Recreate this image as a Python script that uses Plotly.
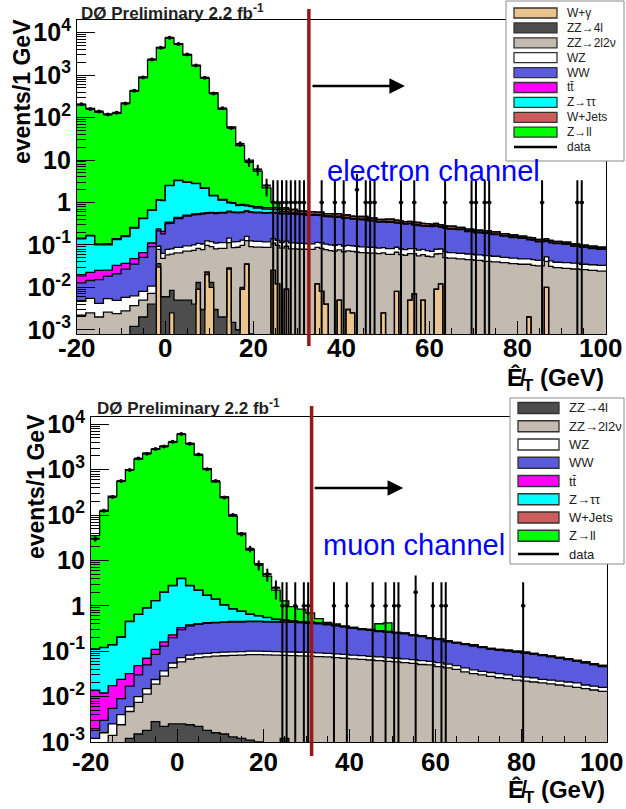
import numpy as np
import plotly.graph_objects as go

# ---------------------------------------------------------------
# Missing-ET-like variable from -20 to 100 GeV, contents in events / 1 GeV.
# Most backgrounds are stored in 2 GeV bins; W+gamma and the high-ET data
# events are stored as individual 1 GeV bins.
# ---------------------------------------------------------------
bin_edges = list(range(-20, 101, 2))      # 2 GeV binning
fine_edges = list(range(-20, 101, 1))     # 1 GeV binning used for drawing

# ---------------- electron channel ----------------
# W+gamma: lower edge of each non-empty 1 GeV bin and its content
e_wgamma_lo = [-2, 1, 7, 9, 10, 14, 17, 18, 24, 25, 27, 34, 35, 36, 39, 41, 42,
               49, 52, 55, 56, 58, 61, 62, 82, 86]
e_wgamma_val = [0.03, 0.0025, 0.009, 0.02, 0.01, 0.027, 0.009, 0.035, 0.025, 0.012,
                0.009, 0.012, 0.008, 0.004, 0.005, 0.003, 0.0025, 0.0025, 0.008, 0.005,
                0.007, 0.005, 0.009, 0.012, 0.002, 0.01]
e_zz4l = [0, 0, 0, 0, 0, 0, 0.0012, 0.002, 0.004, 0.006,
          0.006, 0.005, 0.005, 0.004, 0.003, 0.003, 0.002, 0.0015, 0.001, 0.0008,
          0.0006, 0, 0, 0, 0, 0, 0, 0, 0, 0,
          0, 0, 0, 0, 0, 0, 0, 0, 0, 0,
          0, 0, 0, 0, 0, 0, 0, 0, 0, 0,
          0, 0, 0, 0, 0, 0, 0, 0, 0, 0]
e_zz2l2v = [0.0022, 0.0025, 0.002, 0.0026, 0.0024, 0.0028, 0.0025, 0.003, 0.0032, 0.042,
            0.052, 0.06, 0.066, 0.07, 0.074, 0.078, 0.081, 0.085, 0.087, 0.09,
            0.088, 0.087, 0.085, 0.084, 0.081, 0.079, 0.078, 0.075, 0.073, 0.071,
            0.069, 0.068, 0.066, 0.064, 0.062, 0.06, 0.059, 0.057, 0.055, 0.054,
            0.052, 0.05, 0.049, 0.047, 0.045, 0.043, 0.041, 0.04, 0.038, 0.036,
            0.035, 0.033, 0.032, 0.031, 0.029, 0.028, 0.027, 0.026, 0.025, 0.024]
e_wz = [0.0025, 0.003, 0.0022, 0.0028, 0.0025, 0.003, 0.0026, 0.003, 0.0035, 0.015,
        0.02, 0.022, 0.024, 0.026, 0.028, 0.029, 0.03, 0.031, 0.032, 0.033,
        0.032, 0.031, 0.031, 0.03, 0.03, 0.029, 0.028, 0.028, 0.027, 0.026,
        0.025, 0.025, 0.024, 0.023, 0.022, 0.022, 0.021, 0.02, 0.02, 0.019,
        0.018, 0.018, 0.017, 0.016, 0.016, 0.015, 0.015, 0.014, 0.013, 0.013,
        0.012, 0.012, 0.011, 0.011, 0.01, 0.01, 0.01, 0.009, 0.009, 0.009]
e_ww = [0.008, 0.009, 0.011, 0.013, 0.016, 0.021, 0.029, 0.043, 0.08, 0.12,
        0.24, 0.33, 0.38, 0.41, 0.43, 0.44, 0.45, 0.46, 0.45, 0.46,
        0.45, 0.44, 0.43, 0.42, 0.42, 0.41, 0.39, 0.38, 0.36, 0.35,
        0.33, 0.31, 0.3, 0.28, 0.26, 0.26, 0.24, 0.23, 0.21, 0.2,
        0.2, 0.18, 0.17, 0.165, 0.145, 0.135, 0.13, 0.12, 0.11, 0.1,
        0.095, 0.085, 0.075, 0.07, 0.068, 0.065, 0.055, 0.052, 0.048, 0.045]
e_ttbar = [0.006, 0.008, 0.01, 0.007, 0.012, 0.01, 0.012, 0.015, 0.02, 0.025,
           0.025, 0.025, 0.024, 0.024, 0.023, 0.023, 0.022, 0.022, 0.021, 0.02,
           0.02, 0.019, 0.018, 0.018, 0.017, 0.016, 0.016, 0.015, 0.014, 0.014,
           0.013, 0.012, 0.012, 0.011, 0.011, 0.01, 0.01, 0.009, 0.009, 0.008,
           0.008, 0.008, 0.007, 0.007, 0.006, 0.006, 0.006, 0.005, 0.005, 0.005,
           0.004, 0.004, 0.004, 0.004, 0.003, 0.003, 0.003, 0.003, 0.003, 0.002]
e_ztautau = [0.12, 0.14, 0.075, 0.075, 0.1, 0.12, 0.2, 0.35, 0.54, 0.9,
             2.15, 2.85, 2.5, 2.25, 1.6, 0.85, 0.55, 0.35, 0.25, 0.19,
             0.15, 0.12, 0.1, 0.05, 0.03, 0.02, 0.015, 0.012, 0.01, 0.008,
             0.007, 0.006, 0.005, 0.005, 0.004, 0.004, 0.003, 0.003, 0.003, 0.002,
             0.002, 0.002, 0.002, 0.001, 0.001, 0.001, 0.001, 0.001, 0.001, 0.001,
             0, 0, 0, 0, 0, 0, 0, 0, 0, 0]
e_wjets = [0.005, 0.005, 0.006, 0.006, 0.007, 0.008, 0.01, 0.012, 0.015, 0.02,
           0.025, 0.03, 0.03, 0.035, 0.035, 0.04, 0.04, 0.045, 0.05, 0.05,
           0.055, 0.06, 0.07, 0.08, 0.09, 0.07, 0.08, 0.07, 0.06, 0.07,
           0.06, 0.05, 0.06, 0.05, 0.04, 0.05, 0.04, 0.035, 0.04, 0.035,
           0.03, 0.028, 0.032, 0.024, 0.022, 0.024, 0.02, 0.022, 0.018, 0.016,
           0.015, 0.014, 0.013, 0.012, 0.011, 0.01, 0.01, 0.009, 0.009, 0.008]
e_zll = [200, 165, 135, 120, 125, 220, 420, 900, 2300, 4500,
         7500, 5500, 3000, 1700, 850, 378, 158, 59, 21, 9.1,
         4.7, 1.45, 0.25, 0.06, 0.03, 0.01, 0, 0, 0, 0,
         0, 0, 0, 0, 0, 0, 0, 0, 0, 0,
         0, 0, 0, 0, 0, 0, 0, 0, 0, 0,
         0, 0, 0, 0, 0, 0, 0, 0, 0, 0]
# data: 2 GeV bins from -20 to 24 GeV, then single events in 1 GeV bins
e_data = [205, 160, 140, 118, 130, 215, 430, 880, 2350, 4400,
          7600, 5400, 3050, 1680, 870, 370, 165, 57, 24, 9, 6, 2.5]
e_tail_x = [24.5, 25.5, 26.5, 27.5, 28.5, 29.5, 30.5, 31.5, 35.5, 38.5,
            40.5, 43.5, 45.5, 46.5, 47.5, 53.5, 56.5, 63.5, 69.5, 70.5,
            72.5, 73.5, 85.5, 93.5, 94.5]
e_tail_n = [1, 1, 1, 1, 1, 1, 1, 1, 1, 1,
            1, 2, 1, 1, 1, 1, 1, 1, 1, 1,
            1, 1, 1, 1, 1]

# ---------------- muon channel ----------------
m_zz4l = [0, 0, 0, 0, 0.0012, 0.0015, 0.0018, 0.0028, 0.0022, 0.0025,
          0.0025, 0.0024, 0.0022, 0.0018, 0.0016, 0.0015, 0.0013, 0.0012, 0.0011, 0.001,
          0.0008, 0, 0.0012, 0, 0, 0, 0, 0, 0, 0,
          0, 0, 0, 0, 0, 0, 0, 0, 0, 0,
          0, 0, 0, 0, 0, 0, 0, 0, 0, 0,
          0, 0, 0, 0, 0, 0, 0, 0, 0, 0]
m_zz2l2v = [0.0006, 0.0008, 0.0014, 0.0024, 0.0035, 0.006, 0.0095, 0.016, 0.026, 0.041,
            0.056, 0.065, 0.07, 0.073, 0.076, 0.078, 0.08, 0.081, 0.083, 0.083,
            0.082, 0.082, 0.08, 0.08, 0.079, 0.078, 0.076, 0.075, 0.072, 0.07,
            0.068, 0.066, 0.064, 0.062, 0.06, 0.058, 0.056, 0.054, 0.051, 0.05,
            0.046, 0.043, 0.04, 0.035, 0.032, 0.03, 0.028, 0.026, 0.025, 0.023,
            0.022, 0.021, 0.02, 0.019, 0.018, 0.017, 0.016, 0.015, 0.014, 0.013]
m_wz = [0.0006, 0.0008, 0.0011, 0.0016, 0.0013, 0.0025, 0.0037, 0.005, 0.0088, 0.0115,
        0.0135, 0.0146, 0.0148, 0.0152, 0.0154, 0.0157, 0.0157, 0.0158, 0.0159, 0.0162,
        0.0162, 0.016, 0.0158, 0.016, 0.016, 0.016, 0.016, 0.015, 0.015, 0.015,
        0.014, 0.014, 0.013, 0.013, 0.012, 0.012, 0.012, 0.011, 0.011, 0.01,
        0.01, 0.009, 0.008, 0.008, 0.007, 0.006, 0.006, 0.006, 0.005, 0.005,
        0.005, 0.005, 0.004, 0.004, 0.004, 0.004, 0.004, 0.003, 0.003, 0.003]
m_ww = [0.0006, 0.0014, 0.003, 0.005, 0.011, 0.02, 0.035, 0.061, 0.093, 0.145,
        0.228, 0.278, 0.303, 0.32, 0.327, 0.335, 0.343, 0.342, 0.35, 0.35,
        0.341, 0.342, 0.333, 0.334, 0.325, 0.316, 0.308, 0.29, 0.273, 0.255,
        0.238, 0.22, 0.213, 0.195, 0.188, 0.18, 0.172, 0.155, 0.148, 0.13,
        0.124, 0.108, 0.102, 0.097, 0.091, 0.084, 0.076, 0.073, 0.07, 0.067,
        0.063, 0.059, 0.056, 0.052, 0.048, 0.044, 0.04, 0.037, 0.033, 0.03]
m_ttbar = [0.012, 0.009, 0.012, 0.015, 0.015, 0.018, 0.02, 0.025, 0.03, 0.03,
           0.03, 0.02, 0.015, 0.015, 0.014, 0.014, 0.013, 0.013, 0.012, 0.012,
           0.012, 0.011, 0.011, 0.01, 0.01, 0.01, 0.009, 0.009, 0.009, 0.008,
           0.008, 0.008, 0.007, 0.007, 0.007, 0.006, 0.006, 0.006, 0.005, 0.005,
           0.005, 0.005, 0.004, 0.004, 0.004, 0.004, 0.003, 0.003, 0.003, 0.003,
           0.003, 0.003, 0.002, 0.002, 0.002, 0.002, 0.002, 0.002, 0.002, 0.002]
m_ztautau = [0.096, 0.108, 0.12, 0.18, 0.42, 0.6, 0.83, 1.19, 1.84, 2.57,
             3.67, 2.42, 1.8, 1.28, 0.97, 0.6, 0.4, 0.3, 0.19, 0.14,
             0.1, 0.05, 0.04, 0.02, 0.015, 0.01, 0.008, 0.006, 0.005, 0.004,
             0.004, 0.003, 0.003, 0.002, 0.002, 0.002, 0.002, 0.001, 0.001, 0.001,
             0.001, 0.001, 0.001, 0.001, 0.001, 0, 0, 0, 0, 0,
             0, 0, 0, 0, 0, 0, 0, 0, 0, 0]
m_wjets = [0.002, 0.002, 0.002, 0.003, 0.003, 0.003, 0.004, 0.004, 0.005, 0.005,
           0.006, 0.006, 0.006, 0.006, 0.006, 0.006, 0.006, 0.006, 0.006, 0.006,
           0.006, 0.006, 0.005, 0.005, 0.005, 0.005, 0.005, 0.005, 0.004, 0.004,
           0.004, 0.004, 0.004, 0.004, 0.003, 0.003, 0.003, 0.003, 0.003, 0.003,
           0.003, 0.003, 0.002, 0.002, 0.002, 0.002, 0.002, 0.002, 0.002, 0.002,
           0.002, 0.002, 0.002, 0.001, 0.001, 0.001, 0.001, 0.001, 0.001, 0.001]
m_zll = [35, 120, 260, 550, 1000, 1700, 2300, 2800, 3300, 4000,
         6000, 3800, 2100, 1050, 540, 249, 94, 39, 16.3, 7.9,
         3.95, 1.7, 0.8, 0.5, 0.4, 0.26, 0.1, 0.03, 0.02, 0,
         0, 0, 0, 0.12, 0.15, 0, 0, 0, 0, 0,
         0, 0, 0, 0, 0, 0, 0, 0, 0, 0,
         0, 0, 0, 0, 0, 0, 0, 0, 0, 0]
m_data = [30, 125, 250, 560, 980, 1750, 2250, 2850, 3250, 4100,
          6100, 3700, 2150, 1020, 560, 245, 100, 38, 18, 8, 5, 2.5]
m_tail_x = [24.5, 25.5, 27.5, 29.5, 30.5, 36.5, 39.5, 45.5, 48.5, 50.5,
            51.5, 55.5, 59.5, 61.5, 62.5, 80.5]
m_tail_n = [1, 1, 1, 1, 1, 1, 1, 1, 1, 1,
            1, 2, 1, 1, 1, 1]

# process colours
COL = {
    "W+γ": "#ebc48c", "ZZ→4l": "#4d4d4d", "ZZ→2l2ν": "#c4bbb0", "WZ": "#ffffff",
    "WW": "#5a5ade", "tt̄": "#ff00ff", "Z→ττ": "#00ffff", "W+Jets": "#cd5c5c",
    "Z→ll": "#00ff00",
}

# cut position drawn as the vertical line in each channel
CUT_E, CUT_M = 32.6, 31.3

x_ticks = [-20, 0, 20, 40, 60, 80, 100]

W, H = 626, 809


def fx(px):
    return px / W


def fy(py):
    return 1 - py / H


def to_fine(coarse):
    """2 GeV histogram -> same histogram on the 1 GeV drawing grid."""
    return np.repeat(np.array(coarse, dtype=float), 2)


def sparse_fine(lo, val):
    h = np.zeros(len(fine_edges) - 1)
    for a, v in zip(lo, val):
        h[a + 20] = v
    return h


e_stack = [("W+γ", sparse_fine(e_wgamma_lo, e_wgamma_val)), ("ZZ→4l", to_fine(e_zz4l)),
           ("ZZ→2l2ν", to_fine(e_zz2l2v)), ("WZ", to_fine(e_wz)), ("WW", to_fine(e_ww)),
           ("tt̄", to_fine(e_ttbar)), ("Z→ττ", to_fine(e_ztautau)),
           ("W+Jets", to_fine(e_wjets)), ("Z→ll", to_fine(e_zll))]
m_stack = [("ZZ→4l", to_fine(m_zz4l)), ("ZZ→2l2ν", to_fine(m_zz2l2v)), ("WZ", to_fine(m_wz)),
           ("WW", to_fine(m_ww)), ("tt̄", to_fine(m_ttbar)), ("Z→ττ", to_fine(m_ztautau)),
           ("W+Jets", to_fine(m_wjets)), ("Z→ll", to_fine(m_zll))]

fig = go.Figure()
FLOOR = 1e-6


def add_stack(layers, xa, ya):
    edges = np.array(fine_edges, dtype=float)
    cum = np.zeros(len(edges) - 1)
    fig.add_trace(go.Scatter(x=edges, y=np.full(len(edges), FLOOR), mode="lines",
                             line=dict(width=0, shape="hv"), xaxis=xa, yaxis=ya,
                             hoverinfo="skip", showlegend=False))
    tops = []
    for name, vals in layers:
        cum = cum + vals
        y = np.maximum(cum, FLOOR)
        y = np.append(y, y[-1])
        tops.append(y)
        fig.add_trace(go.Scatter(x=edges, y=y, mode="lines", name=name,
                                 line=dict(width=0, shape="hv"), fill="tonexty",
                                 fillcolor=COL[name], xaxis=xa, yaxis=ya,
                                 hoverinfo="skip", showlegend=False))
    for y in tops:
        fig.add_trace(go.Scatter(x=edges, y=y, mode="lines",
                                 line=dict(width=1.3, color="black", shape="hv"),
                                 xaxis=xa, yaxis=ya, hoverinfo="skip", showlegend=False))


def add_data(bins, tail_x, tail_n, xa, ya):
    edges = np.array(bin_edges, dtype=float)
    n = len(bins)
    xc = (edges[:n] + edges[1:n + 1]) / 2
    v = np.array(bins, dtype=float)
    err = np.sqrt(v / 2.0)
    tx = np.array(tail_x, dtype=float)
    tn = np.array(tail_n, dtype=float)
    # single events: Poisson 68% upper limit, bar drawn down to zero
    t_up = 1.0 + np.sqrt(tn + 0.75)
    t_dn = tn
    x = np.concatenate([xc, tx])
    y = np.concatenate([v, tn])
    ey_up = np.concatenate([err, t_up])
    ey_dn = np.concatenate([err, t_dn])
    ex = np.concatenate([np.full(n, 1.0), np.full(len(tx), 0.5)])
    fig.add_trace(go.Scatter(x=x, y=y, mode="markers", xaxis=xa, yaxis=ya,
                             marker=dict(color="black", size=4),
                             error_y=dict(type="data", array=ey_up, arrayminus=ey_dn,
                                          color="black", thickness=2, width=0),
                             error_x=dict(type="data", array=ex, arrayminus=ex,
                                          color="black", thickness=2, width=0),
                             hoverinfo="skip", showlegend=False))


add_stack(e_stack, "x", "y")
add_data(e_data, e_tail_x, e_tail_n, "x", "y")
add_stack(m_stack, "x2", "y2")
add_data(m_data, m_tail_x, m_tail_n, "x2", "y2")

# ---------------- axes ----------------
decades = [1e-3, 1e-2, 1e-1, 1, 10, 1e2, 1e3, 1e4]
dec_text = ["10<sup>-3</sup>", "10<sup>-2</sup>", "10<sup>-1</sup>", "1", "10",
            "10<sup>2</sup>", "10<sup>3</sup>", "10<sup>4</sup>"]
minor_vals = [m * 10.0 ** k for k in range(-3, 5) for m in range(2, 10)]

bold = dict(family="Liberation Sans", size=25, color="black", weight="bold")

# x tick labels are written as annotations below (the last one is kept inside the page)
xcommon = dict(range=[-20, 100], showline=True, mirror=True, linecolor="black",
               linewidth=1.2, ticks="inside", ticklen=13, tickwidth=1.2, tickcolor="black",
               tickvals=x_ticks, showticklabels=False, automargin=False,
               minor=dict(ticks="inside", ticklen=6, dtick=5, tick0=0, tickcolor="black"),
               showgrid=False, zeroline=False)
ycommon = dict(type="log", showline=True, mirror=True, linecolor="black", linewidth=1.2,
               ticks="inside", ticklen=18, tickwidth=1.2, tickcolor="black",
               tickvals=decades, ticktext=dec_text, tickfont=bold, automargin=False,
               ticklabeloverflow="allow",
               minor=dict(ticks="inside", ticklen=9, tickmode="array",
                          tickvals=minor_vals, tickcolor="black"),
               showgrid=False, zeroline=False)

fig.update_layout(
    width=W, height=H,
    margin=dict(l=0, r=0, t=0, b=0, pad=0, autoexpand=False),
    paper_bgcolor="white", plot_bgcolor="white", showlegend=False,
    font=dict(family="Liberation Sans", color="black"),
    xaxis=dict(domain=[fx(77), fx(606)], anchor="y", **xcommon),
    yaxis=dict(domain=[fy(334), fy(20)], anchor="x", range=[-3.1, 4.3], **ycommon),
    xaxis2=dict(domain=[fx(91), fx(607)], anchor="y2", **xcommon),
    yaxis2=dict(domain=[fy(742), fy(417)], anchor="x2", range=[-3, 4.16], **ycommon),
)

shapes = []
ann = []

# x tick labels
for xref, py in [("x", 348), ("x2", 762)]:
    for t in x_ticks:
        ann.append(dict(x=t, y=fy(py), xref=xref, yref="paper", xanchor="center",
                        yanchor="middle", showarrow=False, text=str(t),
                        xshift=-6 if t == 100 else 0,
                        font=dict(bold, size=26)))

# cut lines and arrows
shapes.append(dict(type="line", xref="x", yref="paper", x0=CUT_E, x1=CUT_E,
                   y0=fy(346), y1=fy(9), line=dict(color="#981818", width=3.5), layer="above"))
shapes.append(dict(type="line", xref="x2", yref="paper", x0=CUT_M, x1=CUT_M,
                   y0=fy(756), y1=fy(406), line=dict(color="#981818", width=3.5), layer="above"))
ann.append(dict(x=54.4, y=fy(86), xref="x", yref="paper", ax=-94, ay=0,
                axref="pixel", ayref="pixel", showarrow=True, arrowhead=2,
                arrowsize=1.3, arrowwidth=2.4, arrowcolor="black", text=""))
ann.append(dict(x=52.6, y=fy(488), xref="x2", yref="paper", ax=-90, ay=0,
                axref="pixel", ayref="pixel", showarrow=True, arrowhead=2,
                arrowsize=1.3, arrowwidth=2.4, arrowcolor="black", text=""))

# channel labels
ann.append(dict(x=fx(325), y=fy(171), xref="paper", yref="paper", xanchor="left",
                yanchor="middle", showarrow=False, text="electron channel",
                font=dict(family="Liberation Sans", size=29, color="#0000ff")))
ann.append(dict(x=fx(321), y=fy(545), xref="paper", yref="paper", xanchor="left",
                yanchor="middle", showarrow=False, text="muon channel",
                font=dict(family="Liberation Sans", size=29, color="#0000ff")))

# panel headers
for px, py in [(79, 12), (95, 407)]:
    ann.append(dict(x=fx(px), y=fy(py), xref="paper", yref="paper", xanchor="left",
                    yanchor="middle", showarrow=False,
                    text="DØ Preliminary 2.2 fb<sup>-1</sup>",
                    font=dict(family="Liberation Sans", size=17, color="#222",
                              weight="bold")))

# axis titles
for px, py in [(22, 92), (36, 487)]:
    ann.append(dict(x=fx(px), y=fy(py), xref="paper", yref="paper", xanchor="center",
                    yanchor="middle", showarrow=False, textangle=-90,
                    text="events/1 GeV",
                    font=dict(family="Liberation Sans", size=23, color="black",
                              weight="bold")))
for px, py in [(606, 379), (607, 791)]:
    ann.append(dict(x=fx(px), y=fy(py), xref="paper", yref="paper", xanchor="right",
                    yanchor="middle", showarrow=False,
                    text="Ê\u0338<sub>T</sub> (GeV)",
                    font=dict(family="Liberation Sans", size=24, color="black",
                              weight="bold")))


# legends
def legend(entries, x0, y0, x1, y1, first_y, step, sw0, sw1, sh, lx, fsize):
    shapes.append(dict(type="rect", xref="paper", yref="paper", x0=fx(x0), x1=fx(x1),
                       y0=fy(y1), y1=fy(y0), fillcolor="white",
                       line=dict(color="#8a8a8a", width=1), layer="above"))
    for k, name in enumerate(entries):
        yc = first_y + k * step
        if name == "data":
            shapes.append(dict(type="line", xref="paper", yref="paper", x0=fx(sw0),
                               x1=fx(sw1), y0=fy(yc), y1=fy(yc),
                               line=dict(color="black", width=2.5), layer="above"))
        else:
            shapes.append(dict(type="rect", xref="paper", yref="paper", x0=fx(sw0),
                               x1=fx(sw1), y0=fy(yc + sh / 2), y1=fy(yc - sh / 2),
                               fillcolor=COL[name], line=dict(color="#333", width=1.3),
                               layer="above"))
        ann.append(dict(x=fx(lx), y=fy(yc), xref="paper", yref="paper", xanchor="left",
                        yanchor="middle", showarrow=False, text=name,
                        font=dict(family="Liberation Sans", size=fsize, color="#222")))


legend([n for n, _ in e_stack] + ["data"], 506, 1, 624, 161, 13, 14.9, 514, 557, 10, 565, 12)
legend([n for n, _ in m_stack] + ["data"], 510, 398, 624, 564, 408, 18.25, 518, 559, 11, 567, 13)

fig.update_layout(shapes=shapes, annotations=ann)
fig.write_html("out.html")
